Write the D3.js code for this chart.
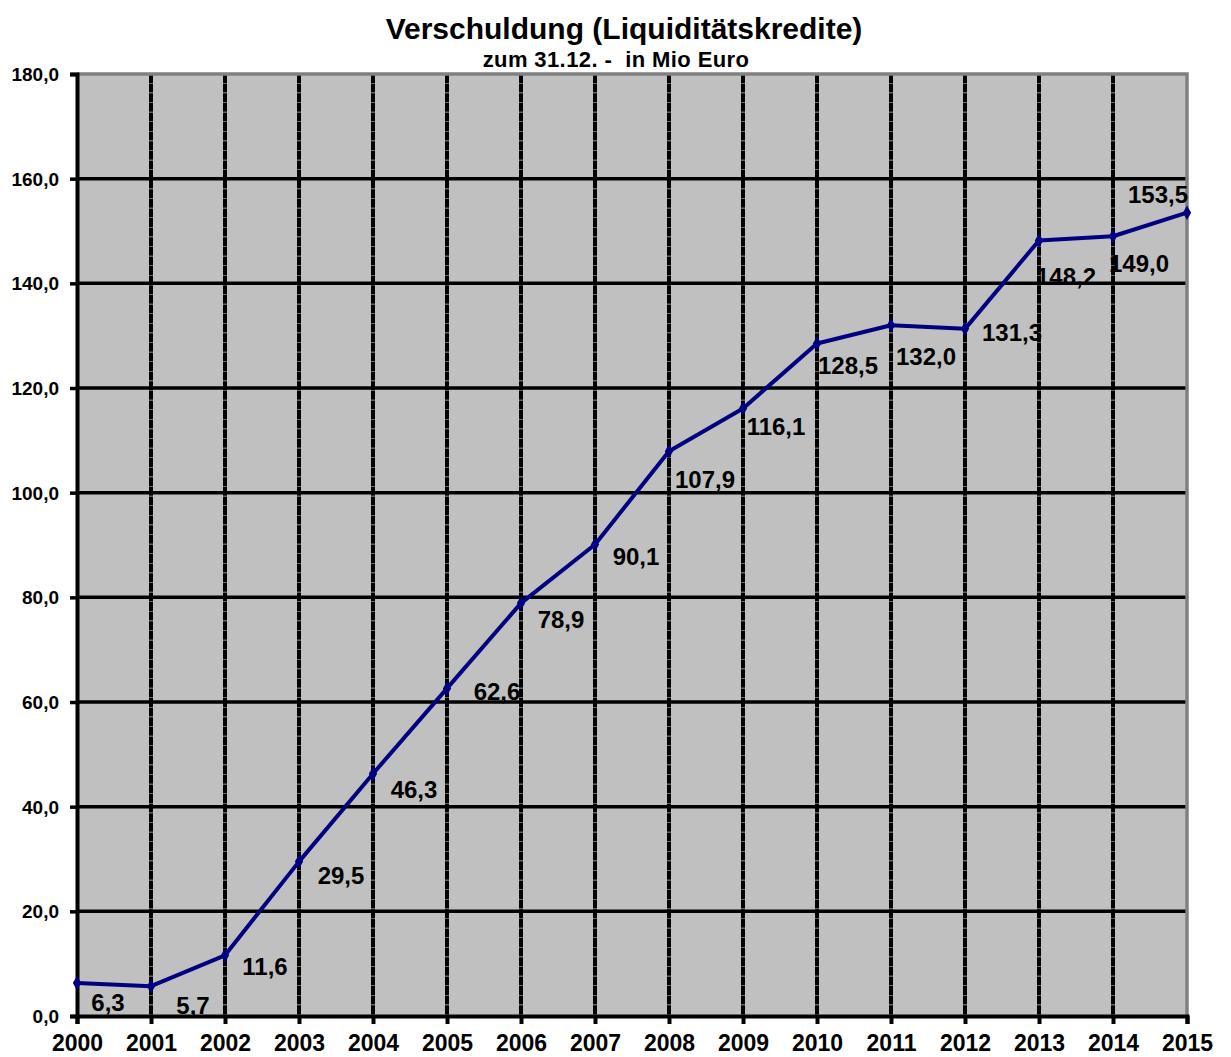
<!DOCTYPE html>
<html>
<meta charset="utf-8">
<title>Verschuldung</title>
<style>
html,body{ margin:0; background:#fff; }
text { font-family: "Liberation Sans", Arial, sans-serif; font-weight: bold; fill:#000; }
</style>
<script src="https://d3js.org/d3.v7.min.js"></script>
<body>
<script>

var years  = [2000,2001,2002,2003,2004,2005,2006,2007,2008,2009,2010,2011,2012,2013,2014,2015];
var values = [6.3,5.7,11.6,29.5,46.3,62.6,78.9,90.1,107.9,116.1,128.5,132.0,131.3,148.2,149.0,153.5];
var yTicks = [0,20,40,60,80,100,120,140,160,180];
// label nudges (px) relative to each point, as placed in the original
var labelDx = [31,42,40,42,41,50,40,41,36,33,31,35,47,27,26,-29];
var labelDy = [20,19,11,14,16,3,17,12,28,18,22,31,4,36,27,-18];

var width = 1231, height = 1057;
var margin = {left:77, right:44, top:74, bottom:41};

var svg = d3.select("body").append("svg")
    .attr("width", width)
    .attr("height", height);

var x = d3.scaleLinear()
    .domain([years[0], years[years.length-1]])
    .range([margin.left, width - margin.right]);

var y = d3.scaleLinear()
    .domain([0, 180])
    .range([height - margin.bottom, margin.top]);

var fmt = function(v){ return d3.format(".1f")(v).replace(".", ","); };

// plot background
svg.append("rect")
    .attr("x", x.range()[0]).attr("y", y(180))
    .attr("width", x.range()[1] - x.range()[0])
    .attr("height", y(0) - y(180))
    .attr("fill", "#c0c0c0");

// horizontal grid
svg.append("g").selectAll("line")
  .data(yTicks.filter(function(d){ return d > 0 && d < 180; }))
  .enter().append("line")
    .attr("x1", x.range()[0]).attr("x2", x.range()[1])
    .attr("y1", function(d){ return y(d); })
    .attr("y2", function(d){ return y(d); })
    .attr("stroke", "#000").attr("stroke-width", 3.5);

// vertical grid
svg.append("g").selectAll("line")
  .data(years.slice(1, -1))
  .enter().append("line")
    .attr("x1", function(d){ return x(d); })
    .attr("x2", function(d){ return x(d); })
    .attr("y1", y(180)).attr("y2", y(0))
    .attr("stroke", "#000").attr("stroke-width", 4)
    .attr("stroke-dasharray", "9,0.6");

// top & right border (grey)
svg.append("path")
    .attr("d", "M" + x.range()[0] + "," + y(180) + "H" + x.range()[1] + "V" + y(0))
    .attr("fill", "none").attr("stroke", "#808080").attr("stroke-width", 3.5);

// axes
var yAxis = d3.axisLeft(y).tickValues(yTicks).tickSize(7).tickFormat(fmt);
var xAxis = d3.axisBottom(x).tickValues(years).tickSize(8).tickFormat(d3.format("d"));

var ga = svg.append("g")
    .attr("transform", "translate(" + x.range()[0] + ",0)")
    .call(yAxis);
ga.select(".domain").attr("stroke", "#000").attr("stroke-width", 4);
ga.selectAll(".tick line").attr("stroke", "#000").attr("stroke-width", 3.5);
ga.selectAll(".tick text")
    .attr("x", -18).attr("dy", "0.35em")
    .style("font-size", "19px").style("font-family", "Liberation Sans, Arial, sans-serif")
    .style("font-weight", "bold").attr("fill", "#000");

var gx = svg.append("g")
    .attr("transform", "translate(0," + y(0) + ")")
    .call(xAxis);
gx.select(".domain").attr("stroke", "#000").attr("stroke-width", 4);
gx.selectAll(".tick line").attr("stroke", "#000").attr("stroke-width", 4);
gx.selectAll(".tick text")
    .attr("y", 35).attr("dy", "0")
    .style("font-size", "23px").style("font-family", "Liberation Sans, Arial, sans-serif")
    .style("font-weight", "bold").attr("fill", "#000");

// series line
var line = d3.line()
    .x(function(d, i){ return x(years[i]); })
    .y(function(d){ return y(d); });

svg.append("path")
    .datum(values)
    .attr("d", line)
    .attr("fill", "none")
    .attr("stroke", "#000080")
    .attr("stroke-width", 4)
    .attr("stroke-linejoin", "round");

// diamond markers
svg.append("g").selectAll("path")
  .data(values)
  .enter().append("path")
    .attr("d", d3.symbol().type(d3.symbolDiamond).size(60))
    .attr("transform", function(d, i){ return "translate(" + x(years[i]) + "," + y(d) + ")"; })
    .attr("fill", "#000080");

// data labels
svg.append("g").selectAll("text")
  .data(values)
  .enter().append("text")
    .attr("x", function(d, i){ return x(years[i]) + labelDx[i]; })
    .attr("y", function(d, i){ return y(d) + labelDy[i]; })
    .attr("dy", "0.35em")
    .attr("text-anchor", "middle")
    .style("font-size", "24px")
    .text(fmt);

// titles
svg.append("text")
    .attr("x", 624).attr("y", 39)
    .attr("text-anchor", "middle")
    .style("font-size", "30px")
    .text("Verschuldung (Liquiditätskredite)");

svg.append("text")
    .attr("x", 616).attr("y", 67)
    .attr("text-anchor", "middle")
    .style("font-size", "22px")
    .style("letter-spacing", "0.4px")
    .style("white-space", "pre")
    .attr("xml:space", "preserve")
    .text("zum 31.12. -  in Mio Euro");

</script>
</body>
</html>
